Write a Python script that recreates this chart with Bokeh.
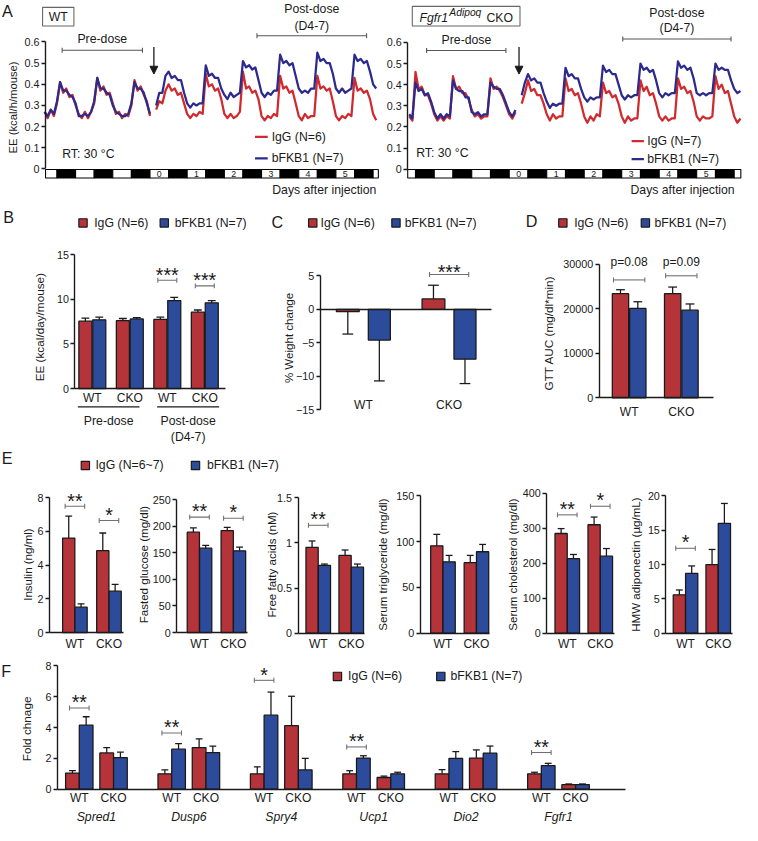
import math
from bokeh.plotting import figure
from bokeh.models import (Range1d, LinearAxis, FixedTicker, Arrow, NormalHead,
                          CustomJSTickFormatter)
from bokeh.core.properties import value
from bokeh.embed import file_html
from bokeh.resources import INLINE

# ======================= DATA =======================
# Panel A: energy expenditure (kcal/h/mouse), read every 2 h.
# Hours are counted from the light onset of the injection day (day 0).
wt_pre_hours = list(range(-68, 1, 2))
wt_post_hours = list(range(4, 147, 2))
wt_igg_pre = [0.27, 0.24, 0.28, 0.25, 0.31,
              0.41, 0.36, 0.38, 0.34, 0.35, 0.30,
              0.26, 0.24, 0.27, 0.24, 0.27, 0.31,
              0.43, 0.37, 0.39, 0.35, 0.36, 0.31,
              0.26, 0.27, 0.24, 0.26, 0.25, 0.30,
              0.42, 0.37, 0.39, 0.35, 0.32, 0.25]
wt_bfkb1_pre = [0.27, 0.25, 0.28, 0.26, 0.32,
                0.41, 0.37, 0.37, 0.35, 0.34, 0.31,
                0.25, 0.25, 0.26, 0.25, 0.27, 0.32,
                0.43, 0.38, 0.38, 0.36, 0.35, 0.30,
                0.27, 0.26, 0.25, 0.25, 0.26, 0.31,
                0.41, 0.38, 0.38, 0.36, 0.31, 0.26]
wt_igg_post = [0.28, 0.32, 0.31, 0.37,
               0.40, 0.37, 0.38, 0.35, 0.36, 0.31,
               0.26, 0.24, 0.26, 0.25, 0.27, 0.26,
               0.45, 0.39, 0.40, 0.37, 0.38, 0.33,
               0.26, 0.24, 0.26, 0.24, 0.25, 0.27,
               0.46, 0.38, 0.39, 0.36, 0.37, 0.33,
               0.25, 0.23, 0.25, 0.24, 0.26, 0.25,
               0.44, 0.38, 0.39, 0.36, 0.37, 0.31,
               0.25, 0.23, 0.26, 0.24, 0.25, 0.25,
               0.44, 0.38, 0.39, 0.37, 0.38, 0.32,
               0.25, 0.23, 0.25, 0.24, 0.26, 0.25,
               0.43, 0.37, 0.38, 0.36, 0.37, 0.33,
               0.26, 0.23]
wt_bfkb1_post = [0.30, 0.36, 0.36, 0.44,
                 0.46, 0.43, 0.44, 0.42, 0.42, 0.36,
                 0.31, 0.29, 0.31, 0.30, 0.31, 0.31,
                 0.49, 0.44, 0.45, 0.43, 0.43, 0.38,
                 0.35, 0.33, 0.36, 0.34, 0.35, 0.36,
                 0.51, 0.48, 0.49, 0.47, 0.48, 0.42,
                 0.36, 0.34, 0.36, 0.35, 0.37, 0.37,
                 0.54, 0.50, 0.51, 0.49, 0.50, 0.44,
                 0.38, 0.36, 0.37, 0.36, 0.38, 0.38,
                 0.55, 0.51, 0.52, 0.50, 0.50, 0.45,
                 0.38, 0.36, 0.38, 0.36, 0.37, 0.38,
                 0.54, 0.51, 0.52, 0.50, 0.51, 0.46,
                 0.40, 0.38]
cko_pre_hours = list(range(-64, 5, 2))
cko_post_hours = list(range(8, 149, 2))
cko_igg_pre = [0.25, 0.23,
               0.46, 0.38, 0.39, 0.35, 0.35, 0.31,
               0.26, 0.23, 0.25, 0.23, 0.25, 0.24,
               0.44, 0.38, 0.39, 0.36, 0.36, 0.33,
               0.28, 0.25, 0.26, 0.24, 0.25, 0.25,
               0.43, 0.38, 0.39, 0.37, 0.34, 0.30,
               0.26, 0.24, 0.27]
cko_bfkb1_pre = [0.26, 0.24,
                 0.41, 0.37, 0.38, 0.35, 0.36, 0.32,
                 0.27, 0.24, 0.26, 0.24, 0.26, 0.25,
                 0.42, 0.38, 0.37, 0.37, 0.34, 0.34,
                 0.27, 0.26, 0.27, 0.25, 0.26, 0.26,
                 0.41, 0.39, 0.38, 0.38, 0.35, 0.31,
                 0.27, 0.25, 0.28]
cko_igg_post = [0.31, 0.36,
                0.42, 0.37, 0.38, 0.35, 0.35, 0.31,
                0.26, 0.23, 0.26, 0.24, 0.25, 0.25,
                0.43, 0.37, 0.38, 0.35, 0.36, 0.31,
                0.25, 0.22, 0.25, 0.23, 0.26, 0.25,
                0.41, 0.36, 0.37, 0.34, 0.35, 0.31,
                0.25, 0.22, 0.25, 0.23, 0.24, 0.24,
                0.42, 0.37, 0.39, 0.35, 0.36, 0.31,
                0.25, 0.23, 0.25, 0.23, 0.24, 0.24,
                0.43, 0.38, 0.39, 0.36, 0.37, 0.32,
                0.25, 0.23, 0.25, 0.24, 0.24, 0.25,
                0.44, 0.38, 0.40, 0.36, 0.37, 0.31,
                0.25, 0.22, 0.24]
cko_bfkb1_post = [0.35, 0.41,
                  0.45, 0.42, 0.43, 0.41, 0.41, 0.36,
                  0.32, 0.29, 0.31, 0.30, 0.31, 0.31,
                  0.48, 0.44, 0.45, 0.43, 0.43, 0.38,
                  0.34, 0.32, 0.34, 0.33, 0.34, 0.34,
                  0.49, 0.46, 0.47, 0.45, 0.45, 0.40,
                  0.35, 0.33, 0.35, 0.34, 0.35, 0.35,
                  0.50, 0.47, 0.48, 0.46, 0.47, 0.42,
                  0.36, 0.34, 0.36, 0.35, 0.36, 0.36,
                  0.51, 0.48, 0.49, 0.47, 0.48, 0.43,
                  0.36, 0.35, 0.36, 0.35, 0.36, 0.36,
                  0.50, 0.47, 0.48, 0.47, 0.47, 0.42,
                  0.38, 0.36, 0.37]
day_numbers = [0, 1, 2, 3, 4, 5]

# Panel B: EE (kcal/day/mouse)
b_groups = ["WT", "CKO", "WT", "CKO"]
b_igg = [7.55, 7.6, 7.75, 8.55]
b_igg_err = [7.9, 7.85, 8.0, 8.8]
b_bfkb1 = [7.7, 7.8, 9.85, 9.6]
b_bfkb1_err = [8.0, 7.95, 10.2, 9.85]
b_sig = [(2, "***"), (3, "***")]

# Panel C: % weight change
c_groups = ["WT", "CKO"]
c_igg = [-0.35, 1.55]
c_igg_err = [-3.7, 3.6]
c_bfkb1 = [-4.6, -7.45]
c_bfkb1_err = [-10.7, -11.1]
c_sig = [(1, "***")]

# Panel D: GTT AUC
d_groups = ["WT", "CKO"]
d_igg = [23400, 23400]
d_igg_err = [24300, 24900]
d_bfkb1 = [20100, 19700]
d_bfkb1_err = [21600, 21100]
d_sig = [(0, "p=0.08"), (1, "p=0.09")]

# Panel E: serum parameters (WT, CKO)
e_groups = ["WT", "CKO"]
insulin_igg, insulin_igg_err = [5.6, 4.85], [6.9, 5.9]
insulin_bfkb1, insulin_bfkb1_err = [1.5, 2.45], [1.7, 2.85]
glucose_igg, glucose_igg_err = [189, 192], [197, 198]
glucose_bfkb1, glucose_bfkb1_err = [159, 154], [164, 161]
ffa_igg, ffa_igg_err = [0.95, 0.86], [1.02, 0.92]
ffa_bfkb1, ffa_bfkb1_err = [0.75, 0.73], [0.765, 0.765]
tg_igg, tg_igg_err = [95.5, 77], [108, 85]
tg_bfkb1, tg_bfkb1_err = [78, 89], [85, 97]
chol_igg, chol_igg_err = [285, 310], [299, 332]
chol_bfkb1, chol_bfkb1_err = [213, 220], [225, 242]
adipo_igg, adipo_igg_err = [5.6, 10.0], [6.3, 12.2]
adipo_bfkb1, adipo_bfkb1_err = [8.7, 16.0], [9.8, 18.9]
insulin_sig = [(0, "**"), (1, "*")]
glucose_sig = [(0, "**"), (1, "*")]
ffa_sig = [(0, "**")]
tg_sig = []
chol_sig = [(0, "**"), (1, "*")]
adipo_sig = [(0, "*")]

# Panel F: fold change of gene expression
genes = ["Spred1", "Dusp6", "Spry4", "Ucp1", "Dio2", "Fgfr1"]
f_igg_wt = [1.05, 1.0, 1.0, 1.0, 1.0, 1.0]
f_igg_wt_err = [1.2, 1.25, 1.45, 1.2, 1.27, 1.1]
f_bfkb1_wt = [4.15, 2.6, 4.8, 2.02, 2.0, 1.53]
f_bfkb1_wt_err = [4.7, 2.95, 6.3, 2.17, 2.44, 1.68]
f_igg_cko = [2.35, 2.7, 4.12, 0.76, 2.02, 0.3]
f_igg_cko_err = [2.7, 3.27, 6.03, 0.85, 2.55, 0.34]
f_bfkb1_cko = [2.05, 2.38, 1.25, 1.0, 2.34, 0.3]
f_bfkb1_cko_err = [2.4, 2.8, 2.0, 1.1, 2.8, 0.34]
f_sig = [(0, "**"), (1, "**"), (2, "*"), (3, "**"), (5, "**")]

# ======================= STYLE / LAYOUT =======================
W_REF, H_REF = 758.0, 841.0
W, H = 742, 825
KF = (W / W_REF + H / H_REF) / 2
FONT = "Liberation Sans"
INK = "#1a1a1a"
RED_BAR, BLUE_BAR = "#B5343A", "#2D4B9B"
RED_LINE, BLUE_LINE = "#D02A2F", "#2C2A8C"
GREY = "#707070"


def fpx(v):
    return f"{v * KF:.2f}px"


p = figure(width=W, height=H, x_range=Range1d(0, W_REF), y_range=Range1d(H_REF, 0),
           output_backend="svg", toolbar_location=None, x_axis_type=None, y_axis_type=None,
           min_border=0, outline_line_color=None,
           background_fill_color="white", border_fill_color="white")

XR, YR = {}, {}


class Panel:
    def __init__(self, name, xa, ya):
        px0, v0, px1, v1 = xa
        self.bx = (px1 - px0) / (v1 - v0)
        self.ax = px0 - self.bx * v0
        py0, w0, py1, w1 = ya
        self.by = (py1 - py0) / (w1 - w0)
        self.ay = py0 - self.by * w0
        XR[name] = Range1d(start=(0 - self.ax) / self.bx, end=(W_REF - self.ax) / self.bx)
        YR[name] = Range1d(start=(H_REF - self.ay) / self.by, end=(0 - self.ay) / self.by)
        self.name = name

    def X(self, v):
        return self.ax + self.bx * v

    def Y(self, v):
        return self.ay + self.by * v

    def x(self, px):
        return (px - self.ax) / self.bx

    def y(self, py):
        return (py - self.ay) / self.by

    def kw(self):
        return dict(x_range_name=self.name, y_range_name=self.name)


def txt(x, y, s, size=12.5, align="center", baseline="middle", style="normal",
        angle=0.0, color=INK):
    p.text(x=[x], y=[y], text=[s], text_font=value(FONT), text_font_size=value(fpx(size)),
           text_align=value(align), text_baseline=value(baseline),
           text_font_style=value(style), angle=value(angle), text_color=value(color))


def seg(x0, y0, x1, y1, color=INK, width=1.3):
    p.segment(x0=[x0], y0=[y0], x1=[x1], y1=[y1], line_color=color, line_width=width * KF)


def bracket(x0, x1, y, color=GREY, cap=2.5):
    seg(x0, y, x1, y, color, 1.1)
    seg(x0, y - cap, x0, y + cap, color, 1.1)
    seg(x1, y - cap, x1, y + cap, color, 1.1)


def stars(xc, yc, s, size=20):
    # the asterisk glyph sits high in the em box: push the anchor down
    txt(xc, yc + 0.23 * size, s, size, baseline="middle")


def legend_sq(xs, y, color, label, xt, size=12.5):
    p.scatter(x=[xs], y=[y], marker="square", size=8.5 * KF, fill_color=color,
              line_color=INK, line_width=1.2 * KF)
    txt(xt, y, label, size, align="left")


def yaxis(pn, xpx, lo, hi, ticks, fmt=None, size=11):
    ax = LinearAxis(x_range_name="default", y_range_name=pn.name, fixed_location=xpx,
                    bounds=(lo, hi), ticker=FixedTicker(ticks=ticks),
                    minor_tick_line_color=None, major_tick_in=0, major_tick_out=4,
                    axis_line_color=INK, axis_line_width=1.4 * KF,
                    major_tick_line_color=INK, major_tick_line_width=1.3 * KF,
                    major_label_text_font=FONT, major_label_text_font_size=fpx(size),
                    major_label_text_color=INK, major_label_standoff=2)
    if fmt is not None:
        ax.formatter = fmt
    p.add_layout(ax, "left")


def xaxis(pn, ypx, x0px, x1px, ticks, labels, standoff=2, size=12.3):
    ax = LinearAxis(x_range_name=pn.name, y_range_name="default", fixed_location=ypx,
                    bounds=(pn.x(x0px), pn.x(x1px)), ticker=FixedTicker(ticks=ticks),
                    major_label_overrides=dict(zip(ticks, labels)),
                    major_tick_line_color=None, minor_tick_line_color=None,
                    major_tick_in=0, major_tick_out=0,
                    axis_line_color=INK, axis_line_width=1.5 * KF,
                    major_label_text_font=FONT, major_label_text_font_size=fpx(size),
                    major_label_text_color=INK, major_label_standoff=standoff)
    p.add_layout(ax, "below")


def bars(pn, xs, vals, errs, off_px, w_px, color, cap_px):
    cx = [x + off_px / pn.bx for x in xs]
    hw = w_px / 2 / pn.bx
    ch = cap_px / 2 / pn.bx
    p.quad(left=[c - hw for c in cx], right=[c + hw for c in cx], bottom=0, top=vals,
           fill_color=color, line_color=INK, line_width=1.3 * KF, **pn.kw())
    p.segment(x0=cx, y0=vals, x1=cx, y1=errs, line_color=INK, line_width=1.3 * KF, **pn.kw())
    p.segment(x0=[c - ch for c in cx], y0=errs, x1=[c + ch for c in cx], y1=errs,
              line_color=INK, line_width=1.3 * KF, **pn.kw())


def sig(pn, xc, levels, label, gap, half, star_gap=10.5, size=20, text_y=None):
    yb = pn.Y(max(levels + [0])) - gap
    xp = pn.X(xc)
    bracket(xp - half, xp + half, yb)
    if text_y is not None:
        txt(xp, text_y, label, 12.3)
    else:
        stars(xp, yb - star_gap, label, size)


# ======================= PANEL A =======================
tick_fmt = CustomJSTickFormatter(code="return tick == 0 ? '0' : tick.toFixed(1);")
a_ticks = [0, 0.1, 0.2, 0.3, 0.4, 0.5, 0.6]


def ee_panel(pn, axis_px, strip_l, strip_r, pre_t, igg_pre, bf_pre, post_t, igg_post, bf_post):
    y_top, y_bot = pn.y(172.3), pn.y(181.0)
    lo, hi = pn.x(strip_l), pn.x(strip_r)
    lefts, rights, fills = [], [], []
    for k in range(-7, 14):
        l, r = max(12 * k, lo), min(12 * k + 12, hi)
        if r <= l:
            continue
        lefts.append(l)
        rights.append(r)
        fills.append("white" if k % 2 == 0 else "black")
    p.quad(left=lefts, right=rights, top=y_top, bottom=y_bot, fill_color=fills,
           line_color="black", line_width=1.1 * KF, **pn.kw())
    for d in day_numbers:
        txt(pn.X(24 * d + 6), 176.8, str(d), 9)
    for t, v, c in [(pre_t, igg_pre, RED_LINE), (post_t, igg_post, RED_LINE),
                    (pre_t, bf_pre, BLUE_LINE), (post_t, bf_post, BLUE_LINE)]:
        p.line(t, v, line_color=c, line_width=2.3 * KF, line_join="round", **pn.kw())
    yaxis(pn, axis_px, 0, 0.6, a_ticks, tick_fmt, 11)


pA1 = Panel("A1", (152.7, 0.0, 152.7 + 1.583 * 24, 24.0), (171.7, 0.0, 42.3, 0.6))
pA2 = Panel("A2", (519.7, 0.0, 519.7 + 1.596 * 24, 24.0), (172.0, 0.0, 42.7, 0.6))
ee_panel(pA1, 46, 46, 386, wt_pre_hours, wt_igg_pre, wt_bfkb1_pre,
         wt_post_hours, wt_igg_post, wt_bfkb1_post)
ee_panel(pA2, 416, 416, 756.3, cko_pre_hours, cko_igg_pre, cko_bfkb1_pre,
         cko_post_hours, cko_igg_post, cko_bfkb1_post)

txt(7, 11, "A", 16.5)
txt(12.5, 109, "EE (kcal/h/mouse)", 11.5, angle=math.pi / 2)
p.quad(left=[43, 420.7], right=[75, 530.7], top=[7, 6], bottom=[26, 26],
       fill_color=None, line_color="#666666", line_width=1.1 * KF)
txt(59, 17, "WT", 12.5)
txt(428, 17.5, "Fgfr1", 12.5, align="left", style="italic")
txt(458.5, 12.5, "Adipoq", 10.5, align="left", style="italic")
txt(496.5, 17.5, "CKO", 12.5, align="left")
for (x0, x1, yb, xt, yt) in [(63, 145, 50.7, 104, 39), (435.3, 516.3, 51, 476, 40)]:
    bracket(x0, x1, yb, "#555555", 2.5)
    txt(xt, yt, "Pre-dose", 12.5)
for (x0, x1, yb, xt, yt1, yt2) in [(262, 374, 36, 318, 9, 26), (635.7, 746.3, 39.3, 691, 12.3, 28.3)]:
    bracket(x0, x1, yb, "#555555", 2.5)
    txt(xt, yt1, "Post-dose", 12.5)
    txt(xt, yt2, "(D4-7)", 12.5)
for xa in [156.7, 529.7]:
    p.add_layout(Arrow(end=NormalHead(size=8 * KF, fill_color=INK, line_color=INK),
                       x_start=xa, y_start=47.5, x_end=xa, y_end=75,
                       line_color=INK, line_width=1.3 * KF))
for (lx0, lx1, ly1, ly2, tx, n) in [(260, 273, 139, 161, 277, "6"), (644.7, 657.3, 143.3, 161.7, 660.7, "7")]:
    p.segment(x0=[lx0, lx0], y0=[ly1, ly2], x1=[lx1, lx1], y1=[ly1, ly2],
              line_color=[RED_LINE, BLUE_LINE], line_width=2.2 * KF)
    txt(tx, ly1, f"IgG (N={n})", 12.5, align="left")
    txt(tx, ly2, "bFKB1 (N=7)", 12.5, align="left")
txt(63, 156, "RT: 30 °C", 12.5, align="left")
txt(424.7, 155.7, "RT: 30 °C", 12.5, align="left")
txt(384, 193, "Days after injection", 12.5, align="right")
txt(750, 193, "Days after injection", 12.5, align="right")

# ======================= PANEL B =======================
pB = Panel("B", (93.8, 0, 132.1, 1), (395.7, 0, 259, 15))
gB = list(range(len(b_groups)))
bars(pB, gB, b_igg, b_igg_err, -7.1, 13.3, RED_BAR, 8)
bars(pB, gB, b_bfkb1, b_bfkb1_err, 7.1, 13.3, BLUE_BAR, 8)
yaxis(pB, 76, 0, 15, [0, 5, 10, 15])
xaxis(pB, 395.7, 76, 230, gB, b_groups, standoff=2)
for (g, s), gap in zip(b_sig, [17.5, 15]):
    sig(pB, g, [b_igg_err[g], b_bfkb1_err[g]], s, gap, 9.7)
txt(8.3, 220.5, "B", 16.5)
legend_sq(84.3, 226.7, RED_BAR, "IgG (N=6)", 95.7)
legend_sq(167.3, 226.7, BLUE_BAR, "bFKB1 (N=7)", 178)
txt(40, 333, "EE (kcal/day/mouse)", 12, angle=math.pi / 2)
seg(79, 414.3, 142, 414.3, INK, 1.3)
seg(160, 414.3, 223.3, 414.3, INK, 1.3)
txt(110.5, 428.3, "Pre-dose", 12.5)
txt(191.7, 428.3, "Post-dose", 12.5)
txt(191.7, 445, "(D4-7)", 12.5)

# ======================= PANEL C =======================
pC = Panel("C", (370.8, 0, 458.3, 1), (314.8, 0, 280.7, 5))
gC = list(range(len(c_groups)))
bars(pC, gC, c_igg, c_igg_err, -16.0, 23.3, RED_BAR, 11)
bars(pC, gC, c_bfkb1, c_bfkb1_err, 16.2, 22.5, BLUE_BAR, 11)
yaxis(pC, 326.7, -15, 5, [-15, -10, -5, 0, 5])
xaxis(pC, 314.8, 326.7, 501.7, [], [], standoff=2)
for g, s in c_sig:
    sig(pC, g, [c_igg_err[g], c_bfkb1_err[g], c_igg[g], c_bfkb1[g]], s, 11, 20, star_gap=7)
for g, lab in zip(gC, c_groups):
    txt(pC.X(g), 412.3, lab, 12.3)
txt(282.7, 225.8, "C", 16.5)
legend_sq(319, 226.7, RED_BAR, "IgG (N=6)", 327)
legend_sq(404, 226.7, BLUE_BAR, "bFKB1 (N=7)", 413)
txt(295, 344, "% Weight change", 11.8, angle=math.pi / 2)

# ======================= PANEL D =======================
pD = Panel("D", (642.2, 0, 695.5, 1), (405, 0, 269, 30000))
gD = list(range(len(d_groups)))
bars(pD, gD, d_igg, d_igg_err, -8.85, 16.7, RED_BAR, 9)
bars(pD, gD, d_bfkb1, d_bfkb1_err, 8.85, 16.7, BLUE_BAR, 9)
yaxis(pD, 611.7, 0, 30000, [0, 10000, 20000, 30000])
xaxis(pD, 405, 611.7, 728.3, gD, d_groups, standoff=7)
for (g, s), gap in zip(d_sig, [10, 11.5]):
    sig(pD, g, [d_igg_err[g], d_bfkb1_err[g]], s, gap, 16, text_y=266.7)
txt(542.5, 225, "D", 16.5)
legend_sq(574.5, 226.7, RED_BAR, "IgG (N=6)", 586)
legend_sq(658.8, 226.7, BLUE_BAR, "bFKB1 (N=7)", 668)
txt(560, 339, "GTT AUC (mg/dl*min)", 12, angle=math.pi / 2)

# ======================= PANEL E =======================
e_specs = [
    ("E1", 50, 126, 76.0, 110.8, 644.3, 506.7, 8, [0, 2, 4, 6, 8], "Insulin (ng/ml)", 28,
     insulin_igg, insulin_igg_err, insulin_bfkb1, insulin_bfkb1_err, insulin_sig, [10, 12.8]),
    ("E2", 180, 252, 203.3, 237.9, 644.3, 509, 250, [0, 50, 100, 150, 200, 250],
     "Fasted glucose (mg/dl)", 147,
     glucose_igg, glucose_igg_err, glucose_bfkb1, glucose_bfkb1_err, glucose_sig, [11, 9.4]),
    ("E3", 304, 372, 324.6, 358.3, 645, 506.7, 1.5, [0, 0.5, 1.0, 1.5],
     "Free fatty acids (nM)", 277.5,
     ffa_igg, ffa_igg_err, ffa_bfkb1, ffa_bfkb1_err, ffa_sig, [16]),
    ("E4", 428.7, 500, 452.0, 486.2, 645, 505, 150, [0, 50, 100, 150],
     "Serum triglyceride (mg/dl)", 390.5,
     tg_igg, tg_igg_err, tg_bfkb1, tg_bfkb1_err, tg_sig, []),
    ("E5", 558, 627, 579.0, 612.7, 645, 502.3, 400, [0, 100, 200, 300, 400],
     "Serum cholesterol (mg/dl)", 524,
     chol_igg, chol_igg_err, chol_bfkb1, chol_bfkb1_err, chol_sig, [14, 11]),
    ("E6", 679.7, 748, 699.8, 733.2, 645, 505, 20, [0, 5, 10, 15, 20],
     "HMW adiponectin (µg/mL)", 649.7,
     adipo_igg, adipo_igg_err, adipo_bfkb1, adipo_bfkb1_err, adipo_sig, [18]),
]
gE = list(range(len(e_groups)))
for (nm, axp, endp, c0, c1, y0p, ytp, ytop, ticks, title, tx,
     v_igg, v_igg_e, v_bf, v_bf_e, sigs, gaps) in e_specs:
    pn = Panel(nm, (c0, 0, c1, 1), (y0p, 0, ytp, ytop))
    bars(pn, gE, v_igg, v_igg_e, -6.3, 12.5, RED_BAR, 7)
    bars(pn, gE, v_bf, v_bf_e, 6.3, 12.5, BLUE_BAR, 7)
    yaxis(pn, axp, 0, ytop, ticks)
    xaxis(pn, y0p, axp, endp, gE, e_groups, standoff=4)
    for (g, s), gap in zip(sigs, gaps):
        sig(pn, g, [v_igg_e[g], v_bf_e[g]], s, gap, 10)
    txt(tx, 575, title, 11.8, angle=math.pi / 2)
txt(6.7, 466, "E", 16.5)
legend_sq(86.7, 474, RED_BAR, "IgG (N=6~7)", 97)
legend_sq(199.2, 474, BLUE_BAR, "bFKB1 (N=7)", 211)

# ======================= PANEL F =======================
pF = Panel("F", (80.5, 0, 174.9, 1), (804, 0, 678.3, 8))
CKO_OFF = 35.0 / 94.4
gF = list(range(len(genes)))
gF_cko = [g + CKO_OFF for g in gF]
bars(pF, gF, f_igg_wt, f_igg_wt_err, -7.0, 14, RED_BAR, 7)
bars(pF, gF, f_bfkb1_wt, f_bfkb1_wt_err, 7.0, 14, BLUE_BAR, 7)
bars(pF, gF_cko, f_igg_cko, f_igg_cko_err, -7.0, 14, RED_BAR, 7)
bars(pF, gF_cko, f_bfkb1_cko, f_bfkb1_cko_err, 7.0, 14, BLUE_BAR, 7)
yaxis(pF, 58.3, 0, 8, [0, 2, 4, 6, 8])
xaxis(pF, 804, 58.3, 638, gF + gF_cko, ["WT"] * len(gF) + ["CKO"] * len(gF), standoff=2)
for (g, s), gap in zip(f_sig, [9, 11, 12, 9, 11]):
    sig(pF, g, [f_igg_wt_err[g], f_bfkb1_wt_err[g]], s, gap, 10)
for g, name in zip(gF, genes):
    txt(pF.X(g + CKO_OFF / 2), 832.7, name, 12.5, style="italic")
txt(5.8, 684, "F", 16.5)
legend_sq(344.2, 689, RED_BAR, "IgG (N=6)", 355)
legend_sq(449.8, 689, BLUE_BAR, "bFKB1 (N=7)", 459.7)
txt(26.7, 742.5, "Fold chnage", 12, angle=math.pi / 2)

p.extra_x_ranges = XR
p.extra_y_ranges = YR

with open("out.html", "w") as fh:
    fh.write(file_html(p, INLINE, title="figure"))
